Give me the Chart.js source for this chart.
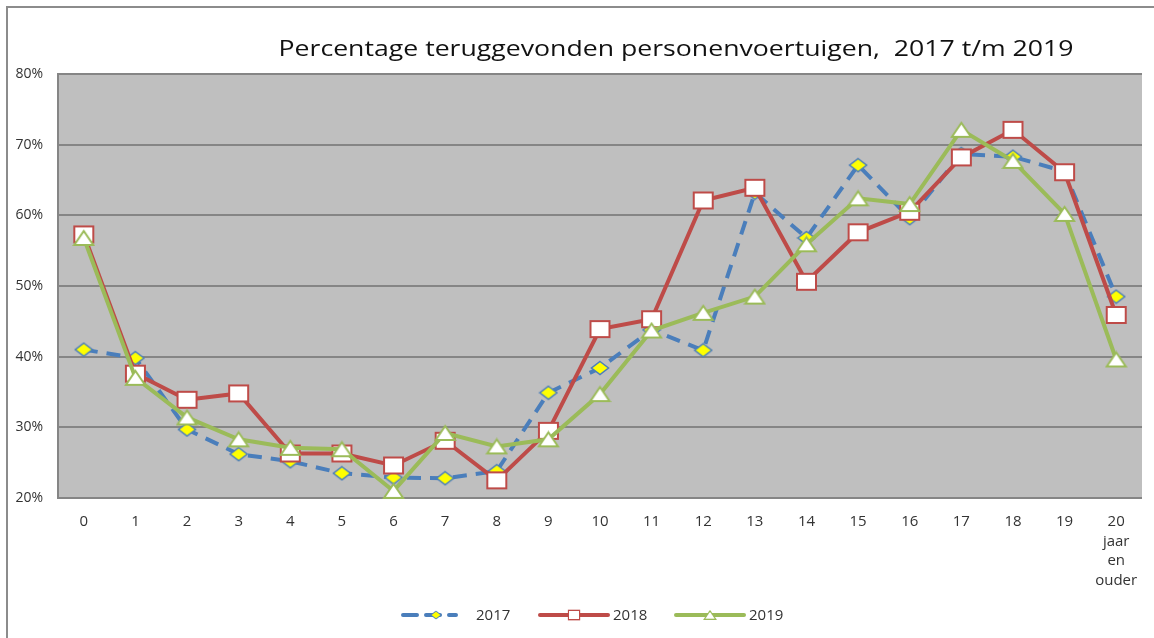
<!DOCTYPE html>
<html>
<head>
<meta charset="utf-8">
<script src="https://cdn.jsdelivr.net/npm/chart.js@4/dist/chart.umd.min.js"></script>
<style>
  html, body { margin: 0; padding: 0; background: #fff; }
  canvas { display: block; }
</style>
</head>
<body>
<canvas id="grafiek" width="1154" height="638"></canvas>
<script>
// leeftijd van het voertuig (jaren)
const jaren = ['0', '1', '2', '3', '4', '5', '6', '7', '8', '9', '10', '11', '12', '13', '14', '15', '16', '17', '18', '19', ['20', 'jaar', 'en', 'ouder']]
const p2017 = [41.0, 39.8, 29.7, 26.2, 25.2, 23.5, 22.9, 22.8, 23.8, 34.9, 38.4, 43.8, 40.9, 63.2, 56.8, 67.1, 59.6, 68.7, 68.3, 66.2, 48.5]
const p2018 = [57.3, 37.6, 33.9, 34.8, 26.3, 26.3, 24.6, 28.1, 22.5, 29.5, 43.9, 45.3, 62.1, 63.9, 50.6, 57.6, 60.5, 68.2, 72.1, 66.1, 45.9]
const p2019 = [56.8, 37.0, 31.4, 28.3, 27.1, 26.9, 21.0, 29.2, 27.3, 28.3, 34.7, 43.7, 46.2, 48.5, 55.9, 62.4, 61.6, 72.1, 67.7, 60.2, 39.6]
const titel = 'Percentage teruggevonden personenvoertuigen,  2017 t/m 2019'

const BLAUW = '#4A7EBB', ROOD = '#BE4B48', GROEN = '#9BBB59'
const FONT = "'Open Sans', 'Noto Sans', sans-serif"

// markers zijn in het origineel iets breder dan hoog
function maakMarker(vorm, w, h, vul, rand, lw) {
    const cv = document.createElement('canvas')
    cv.width = w + lw * 2
    cv.height = h + lw * 2
    const c = cv.getContext('2d')
    c.translate(lw, lw)
    c.beginPath()
    if (vorm === 'ruit') {
        c.moveTo(w / 2, 0); c.lineTo(w, h / 2); c.lineTo(w / 2, h); c.lineTo(0, h / 2)
    } else if (vorm === 'driehoek') {
        c.moveTo(w / 2, 0); c.lineTo(w, h); c.lineTo(0, h)
    } else {
        c.rect(0, 0, w, h)
    }
    c.closePath()
    c.fillStyle = vul
    c.fill()
    c.strokeStyle = rand
    c.lineWidth = lw
    c.lineJoin = 'miter'
    c.stroke()
    return cv
}
const ruit = maakMarker('ruit', 17, 13, '#FFFF00', BLAUW, 1.5)
const vierkant = maakMarker('vierkant', 19, 16, '#fff', ROOD, 2)
const driehoek = maakMarker('driehoek', 19, 14, '#fff', GROEN, 2)

// achtergrond, kader, titel en legenda
const opmaak = {
    id: 'opmaak',
    beforeDraw(chart) {
        const c = chart.ctx, a = chart.chartArea
        c.save()
        c.fillStyle = '#fff'
        c.fillRect(0, 0, chart.width, chart.height)
        c.strokeStyle = '#8c8c8c'
        c.lineWidth = 2
        c.strokeRect(7, 7, chart.width + 20, chart.height + 20)
        c.fillStyle = '#bfbfbf'
        c.fillRect(a.left, a.top, a.right - a.left, a.bottom - a.top)
        c.restore()
    },
    afterDraw(chart) {
        const c = chart.ctx
        c.save()
        c.fillStyle = '#111'
        c.font = '22px ' + FONT
        c.textAlign = 'center'
        c.textBaseline = 'middle'
        const sx = 795 / c.measureText(titel).width
        c.translate(676, 50)
        c.scale(sx, 1)
        c.fillText(titel, 0, 0)
        c.restore()

        c.save()
        const y = 615
        const items = [
            { ds: chart.data.datasets[0], x0: 403, x1: 456, mx: 436, tx: 476 },
            { ds: chart.data.datasets[1], x0: 540, x1: 608, mx: 574, tx: 613 },
            { ds: chart.data.datasets[2], x0: 676, x1: 744, mx: 710, tx: 749 }
        ]
        items.forEach(it => {
            const ds = it.ds
            c.strokeStyle = ds.borderColor
            c.lineWidth = 4
            c.lineCap = 'round'
            c.setLineDash(ds.borderDash || [])
            c.beginPath()
            c.moveTo(it.x0, y)
            c.lineTo(it.x1, y)
            c.stroke()
            c.setLineDash([])
            const img = ds.pointStyle
            const w = img.width * 0.6, h = img.height * 0.6
            c.drawImage(img, it.mx - w / 2, y - h / 2, w, h)
            c.fillStyle = '#333'
            c.font = '15px ' + FONT
            c.textAlign = 'left'
            c.textBaseline = 'middle'
            c.fillText(ds.label, it.tx, y + 1)
        })
        c.restore()
    }
}

new Chart(document.getElementById('grafiek').getContext('2d'), {
    type: 'line',
    data: {
        labels: jaren,
        datasets: [{
            label: '2017',
            data: p2017,
            borderColor: BLAUW,
            borderWidth: 4,
            borderDash: [14, 9],
            pointStyle: ruit,
            order: 2,
            clip: false
        }, {
            label: '2018',
            data: p2018,
            borderColor: ROOD,
            borderWidth: 4,
            pointStyle: vierkant,
            order: 1,
            clip: false
        }, {
            label: '2019',
            data: p2019,
            borderColor: GROEN,
            borderWidth: 4,
            pointStyle: driehoek,
            order: 0,
            clip: false
        }]
    },
    options: {
        responsive: false,
        animation: false,
        devicePixelRatio: 1,
        layout: { padding: { top: 74, right: 9, left: 0, bottom: 0 } },
        plugins: {
            legend: { display: false },
            title: { display: false },
            tooltip: { enabled: false }
        },
        elements: { line: { tension: 0 }, point: { radius: 8, hoverRadius: 8 } },
        scales: {
            x: {
                offset: true,
                grid: { display: false, drawTicks: false },
                border: { display: false },
                ticks: {
                    color: '#333',
                    font: { family: FONT, size: 15, lineHeight: 1.3 },
                    padding: 14,
                    maxRotation: 0,
                    autoSkip: false
                },
                afterFit(scale) { scale.height = 140 }
            },
            y: {
                min: 20,
                max: 80,
                grid: { color: '#858585', lineWidth: 2, drawTicks: false },
                border: { display: true, color: '#858585', width: 2 },
                ticks: {
                    stepSize: 10,
                    color: '#333',
                    font: { family: FONT, size: 14 },
                    padding: 15,
                    callback: v => v + '%'
                },
                afterFit(scale) { scale.width = 58 }
            }
        }
    },
    plugins: [opmaak]
})
</script>
</body>
</html>
